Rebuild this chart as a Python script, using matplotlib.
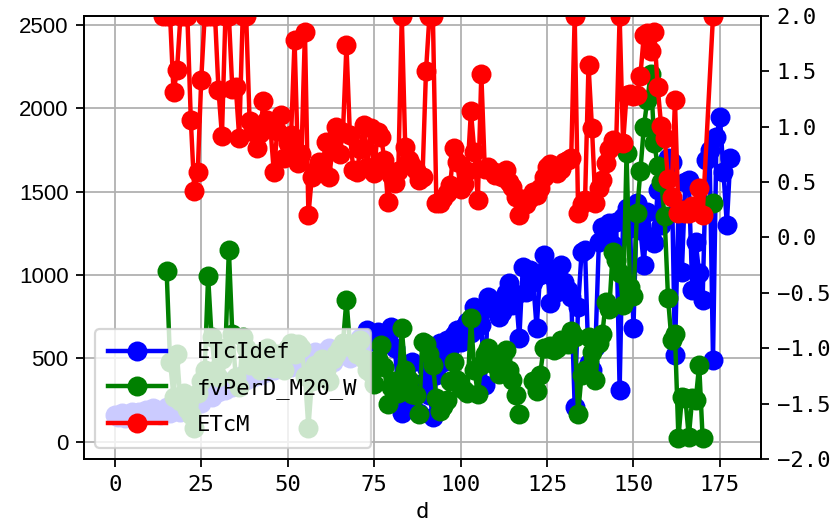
import numpy as np
import matplotlib
matplotlib.use("Agg")
import matplotlib.pyplot as plt

# day index shared by all series
day = list(range(179))

# ETcIdef (left axis), one value per day 0..178
etc_idef = [
    160, 150, 170, 140, 165, 180, 150, 175, 160, 190,
    170, 200, 180, 160, 190, 210, 170, 230, 200, 180,
    210, 190, 240, 220, 260, 230, 280, 300, 270, 320,
    300, 340, 310, 360, 330, 380, 350, 400, 370, 420,
    390, 440, 400, 450, 420, 470, 430, 460, 480, 440,
    490, 450, 500, 470, 520, 480, 510, 490, 540, 500,
    530, 510, 560, 480, 550, 520, 580, 540, 500, 560,
    590, 620, 580, 670, 640, 610, 660, 600, 650, 630,
    690, 560, 300, 170, 420, 250, 480, 300, 172, 350,
    450, 280, 150, 400, 590, 480, 610, 560, 640, 670,
    600, 690, 720, 650, 810, 760, 700, 340, 870, 800,
    840, 750, 780, 890, 950, 820, 880, 620, 1050, 900,
    1030, 960, 680, 1000, 1120, 1050, 830, 980, 900, 1060,
    960, 910, 870, 210, 810, 1140, 1150, 470, 430, 570,
    1200, 1290, 1250, 1310, 1180, 1320, 310, 1350, 1400, 1280,
    680, 1430, 1270, 1060, 1380, 1230, 1190, 1510, 1300, 1620,
    1700, 1680, 520, 1400, 1020, 1560, 1570, 910, 1200, 1010,
    850, 1690, 1750, 490, 1830, 1950, 1620, 1300, 1700,
]

# fvPerD_M20_W (right axis), days 15..173
fv_start = 15
fv_per_d = [
    -0.30, -1.12, -1.44, -1.05, -1.48, -1.40, -1.55, -1.60, -1.72, -1.40,
    -1.30, -1.20, -0.35, -0.90, -1.20, -1.26, -1.10, -1.00, -0.11, -0.87,
    -1.26, -1.35, -0.90, -1.00, -1.15, -1.10, -1.05, -1.20, -1.12, -1.00,
    -1.10, -1.18, -1.05, -1.15, -1.20, -1.00, -0.95, -1.05, -0.96, -1.00,
    -1.25, -1.72, -1.30, -1.15, -1.25, -1.10, -1.20, -1.30, -1.10, -1.05,
    -1.00, -0.95, -0.56, -0.96, -1.00, -1.05, -0.93, -1.10, -1.20, -1.22,
    -1.32, -1.10, -0.97, -1.17, -1.50, -1.35, -1.30, -1.40, -0.82, -1.20,
    -1.29, -1.41, -1.42, -1.59, -0.94, -0.96, -1.05, -1.15, -1.45, -1.57,
    -1.52, -1.47, -1.30, -1.12, -1.29, -1.36, -1.38, -1.40, -0.73, -1.20,
    -1.41, -1.15, -1.05, -1.00, -1.11, -1.15, -1.23, -1.10, -1.02, -1.20,
    -1.29, -1.42, -1.59, np.nan, np.nan, np.nan, -1.30, -1.39, -1.24, -1.00,
    -1.00, -0.98, -1.02, -1.00, -0.93, -0.95, -0.96, -0.84, -0.90, -1.59,
    -1.24, -1.20, -0.90, -1.03, -1.29, -0.95, -0.87, -0.58, -0.65, -0.13,
    -0.20, -0.32, -0.61, 0.76, -0.45, -0.53, 0.22, 0.60, 1.00, 1.24,
    1.48, 0.85, 0.65, 0.50, 0.19, -0.55, -0.93, -0.87, -1.81, -1.44,
    -1.45, -1.80, -1.45, -1.47, -1.15, -1.81, np.nan, np.nan, 0.31,
]

# ETcM (right axis), days 14..173
etcm_start = 14
etcm = [
    2.0, 2.0, 2.0, 1.31, 1.51, 2.0, 2.0, 2.0, 1.06, 0.42,
    0.59, 1.42, 2.0, 2.0, 2.0, 2.0, 1.33, 0.92, 2.0, 2.0,
    1.34, 1.36, 0.90, 2.0, 2.0, 1.05, 0.95, 0.81, 0.94, 1.23,
    1.06, 1.00, 0.59, 0.96, 1.11, 0.72, 0.85, 0.93, 1.78, 0.67,
    0.75, 1.86, 0.20, 0.55, 0.60, 0.68, 0.62, 0.86, 0.55, 0.80,
    1.00, 0.75, 0.95, 1.74, 0.93, 0.61, 0.59, 0.80, 1.02, 0.64,
    0.99, 0.58, 0.95, 0.91, 0.70, 0.32, 0.56, 0.49, 0.60, 2.0,
    0.82, 0.70, 0.65, 0.61, 0.52, 0.55, 1.50, 2.0, 2.0, 0.31,
    0.31, 0.36, 0.40, 0.47, 0.81, 0.68, 0.44, 0.48, 0.60, 1.14,
    0.77, 0.34, 1.48, 0.62, 0.64, 0.60, 0.56, 0.58, 0.55, 0.61,
    0.50, 0.46, 0.37, 0.20, 0.35, 0.30, 0.36, 0.41, 0.38, 0.45,
    0.55, 0.64, 0.66, 0.60, 0.58, 0.62, 0.68, 0.70, 0.72, 2.0,
    0.22, 0.30, 0.34, 1.56, 0.99, 0.31, 0.45, 0.52, 0.67, 0.80,
    0.88, 0.85, 2.0, 0.85, 1.29, 1.30, 1.28, 1.29, 1.46, 1.83,
    1.85, 1.68, 1.86, 1.36, 1.01, 0.90, 0.53, 0.37, 1.24, 0.22,
    0.25, 0.22, 0.22, 0.28, 0.25, 0.45, 0.20, np.nan, np.nan, 2.0,
]

left_ticks = [0, 500, 1000, 1500, 2000, 2500]

plt.rcParams["font.family"] = ["DejaVu Sans Mono"]

fig = plt.figure(figsize=(838 / 160, 523 / 160), dpi=160)
ax1 = fig.add_axes([0.1002, 0.1224, 0.808, 0.847])
ax2 = ax1.twinx()

l1, = ax1.plot(day, etc_idef, "o-", color="blue", lw=2, ms=8, label="ETcIdef")

fv_x = day[fv_start:fv_start + len(fv_per_d)]
l2, = ax2.plot(fv_x, fv_per_d, "o-", color="green", lw=2, ms=8, label="fvPerD_M20_W")

# drop missing ETcM days so the line stays connected
m_x = np.array(day[etcm_start:etcm_start + len(etcm)])
m_y = np.array(etcm)
ok = ~np.isnan(m_y)
l3, = ax2.plot(m_x[ok], m_y[ok], "o-", color="red", lw=2, ms=8, label="ETcM")

ax1.set_ylim(-104, 2554)
ax2.set_ylim(-2, 2)
ax1.set_yticks(left_ticks)
ax1.set_yticklabels([str(t) for t in left_ticks], fontfamily="Liberation Sans")
ax1.grid(True)
ax1.set_xlabel("d", labelpad=3.5)

ax2.legend([l1, l2, l3], ["ETcIdef", "fvPerD_M20_W", "ETcM"],
           loc="lower left", handlelength=2.6, handletextpad=1.4,
           labelspacing=0.7, borderpad=0.6)

fig.savefig("out.png", dpi=160)
